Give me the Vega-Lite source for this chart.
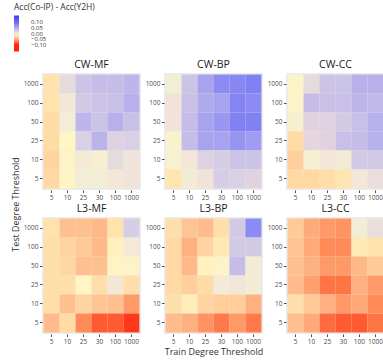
{
  "$schema": "https://vega.github.io/schema/vega-lite/v6.json",
  "padding": {"left": 11, "top": 3, "right": 2, "bottom": 2},
  "datasets": {
    "cells": [
      {"p":"CW-MF","te":1000,"tr":5,"d":-0.02},{"p":"CW-MF","te":1000,"tr":10,"d":0.01},{"p":"CW-MF","te":1000,"tr":25,"d":0.03},{"p":"CW-MF","te":1000,"tr":30,"d":0.035},{"p":"CW-MF","te":1000,"tr":100,"d":0.035},{"p":"CW-MF","te":1000,"tr":1000,"d":0.04},
      {"p":"CW-MF","te":100,"tr":5,"d":-0.02},{"p":"CW-MF","te":100,"tr":10,"d":0.003},{"p":"CW-MF","te":100,"tr":25,"d":0.025},{"p":"CW-MF","te":100,"tr":30,"d":0.03},{"p":"CW-MF","te":100,"tr":100,"d":0.033},{"p":"CW-MF","te":100,"tr":1000,"d":0.045},
      {"p":"CW-MF","te":50,"tr":5,"d":-0.025},{"p":"CW-MF","te":50,"tr":10,"d":0.0},{"p":"CW-MF","te":50,"tr":25,"d":0.04},{"p":"CW-MF","te":50,"tr":30,"d":0.03},{"p":"CW-MF","te":50,"tr":100,"d":0.045},{"p":"CW-MF","te":50,"tr":1000,"d":0.033},
      {"p":"CW-MF","te":25,"tr":5,"d":-0.025},{"p":"CW-MF","te":25,"tr":10,"d":-0.01},{"p":"CW-MF","te":25,"tr":25,"d":0.02},{"p":"CW-MF","te":25,"tr":30,"d":0.042},{"p":"CW-MF","te":25,"tr":100,"d":0.018},{"p":"CW-MF","te":25,"tr":1000,"d":0.02},
      {"p":"CW-MF","te":10,"tr":5,"d":-0.03},{"p":"CW-MF","te":10,"tr":10,"d":-0.008},{"p":"CW-MF","te":10,"tr":25,"d":0.002},{"p":"CW-MF","te":10,"tr":30,"d":-0.003},{"p":"CW-MF","te":10,"tr":100,"d":0.01},{"p":"CW-MF","te":10,"tr":1000,"d":0.005},
      {"p":"CW-MF","te":5,"tr":5,"d":-0.027},{"p":"CW-MF","te":5,"tr":10,"d":-0.009},{"p":"CW-MF","te":5,"tr":25,"d":0.0},{"p":"CW-MF","te":5,"tr":30,"d":0.0},{"p":"CW-MF","te":5,"tr":100,"d":0.003},{"p":"CW-MF","te":5,"tr":1000,"d":0.005},

      {"p":"CW-BP","te":1000,"tr":5,"d":0.0},{"p":"CW-BP","te":1000,"tr":10,"d":0.03},{"p":"CW-BP","te":1000,"tr":25,"d":0.055},{"p":"CW-BP","te":1000,"tr":30,"d":0.075},{"p":"CW-BP","te":1000,"tr":100,"d":0.077},{"p":"CW-BP","te":1000,"tr":1000,"d":0.082},
      {"p":"CW-BP","te":100,"tr":5,"d":0.005},{"p":"CW-BP","te":100,"tr":10,"d":0.033},{"p":"CW-BP","te":100,"tr":25,"d":0.05},{"p":"CW-BP","te":100,"tr":30,"d":0.055},{"p":"CW-BP","te":100,"tr":100,"d":0.08},{"p":"CW-BP","te":100,"tr":1000,"d":0.075},
      {"p":"CW-BP","te":50,"tr":5,"d":0.005},{"p":"CW-BP","te":50,"tr":10,"d":0.035},{"p":"CW-BP","te":50,"tr":25,"d":0.055},{"p":"CW-BP","te":50,"tr":30,"d":0.065},{"p":"CW-BP","te":50,"tr":100,"d":0.082},{"p":"CW-BP","te":50,"tr":1000,"d":0.082},
      {"p":"CW-BP","te":25,"tr":5,"d":-0.005},{"p":"CW-BP","te":25,"tr":10,"d":0.035},{"p":"CW-BP","te":25,"tr":25,"d":0.055},{"p":"CW-BP","te":25,"tr":30,"d":0.055},{"p":"CW-BP","te":25,"tr":100,"d":0.067},{"p":"CW-BP","te":25,"tr":1000,"d":0.06},
      {"p":"CW-BP","te":10,"tr":5,"d":-0.004},{"p":"CW-BP","te":10,"tr":10,"d":0.004},{"p":"CW-BP","te":10,"tr":25,"d":0.018},{"p":"CW-BP","te":10,"tr":30,"d":0.022},{"p":"CW-BP","te":10,"tr":100,"d":0.03},{"p":"CW-BP","te":10,"tr":1000,"d":0.03},
      {"p":"CW-BP","te":5,"tr":5,"d":-0.018},{"p":"CW-BP","te":5,"tr":10,"d":0.001},{"p":"CW-BP","te":5,"tr":25,"d":0.005},{"p":"CW-BP","te":5,"tr":30,"d":0.022},{"p":"CW-BP","te":5,"tr":100,"d":0.02},{"p":"CW-BP","te":5,"tr":1000,"d":0.017},

      {"p":"CW-CC","te":1000,"tr":5,"d":-0.007},{"p":"CW-CC","te":1000,"tr":10,"d":0.01},{"p":"CW-CC","te":1000,"tr":25,"d":0.03},{"p":"CW-CC","te":1000,"tr":30,"d":0.03},{"p":"CW-CC","te":1000,"tr":100,"d":0.045},{"p":"CW-CC","te":1000,"tr":1000,"d":0.045},
      {"p":"CW-CC","te":100,"tr":5,"d":-0.007},{"p":"CW-CC","te":100,"tr":10,"d":0.035},{"p":"CW-CC","te":100,"tr":25,"d":0.033},{"p":"CW-CC","te":100,"tr":30,"d":0.033},{"p":"CW-CC","te":100,"tr":100,"d":0.04},{"p":"CW-CC","te":100,"tr":1000,"d":0.038},
      {"p":"CW-CC","te":50,"tr":5,"d":-0.003},{"p":"CW-CC","te":50,"tr":10,"d":0.017},{"p":"CW-CC","te":50,"tr":25,"d":0.018},{"p":"CW-CC","te":50,"tr":30,"d":0.025},{"p":"CW-CC","te":50,"tr":100,"d":0.033},{"p":"CW-CC","te":50,"tr":1000,"d":0.045},
      {"p":"CW-CC","te":25,"tr":5,"d":-0.025},{"p":"CW-CC","te":25,"tr":10,"d":0.014},{"p":"CW-CC","te":25,"tr":25,"d":0.017},{"p":"CW-CC","te":25,"tr":30,"d":0.033},{"p":"CW-CC","te":25,"tr":100,"d":0.035},{"p":"CW-CC","te":25,"tr":1000,"d":0.045},
      {"p":"CW-CC","te":10,"tr":5,"d":-0.033},{"p":"CW-CC","te":10,"tr":10,"d":-0.002},{"p":"CW-CC","te":10,"tr":25,"d":0.003},{"p":"CW-CC","te":10,"tr":30,"d":0.001},{"p":"CW-CC","te":10,"tr":100,"d":0.025},{"p":"CW-CC","te":10,"tr":1000,"d":0.025},
      {"p":"CW-CC","te":5,"tr":5,"d":-0.027},{"p":"CW-CC","te":5,"tr":10,"d":-0.027},{"p":"CW-CC","te":5,"tr":25,"d":-0.023},{"p":"CW-CC","te":5,"tr":30,"d":-0.018},{"p":"CW-CC","te":5,"tr":100,"d":0.003},{"p":"CW-CC","te":5,"tr":1000,"d":0.008},

      {"p":"L3-MF","te":1000,"tr":5,"d":-0.02},{"p":"L3-MF","te":1000,"tr":10,"d":-0.04},{"p":"L3-MF","te":1000,"tr":25,"d":-0.04},{"p":"L3-MF","te":1000,"tr":30,"d":-0.045},{"p":"L3-MF","te":1000,"tr":100,"d":-0.02},{"p":"L3-MF","te":1000,"tr":1000,"d":0.022},
      {"p":"L3-MF","te":100,"tr":5,"d":-0.022},{"p":"L3-MF","te":100,"tr":10,"d":-0.03},{"p":"L3-MF","te":100,"tr":25,"d":-0.035},{"p":"L3-MF","te":100,"tr":30,"d":-0.045},{"p":"L3-MF","te":100,"tr":100,"d":-0.013},{"p":"L3-MF","te":100,"tr":1000,"d":0.002},
      {"p":"L3-MF","te":50,"tr":5,"d":-0.022},{"p":"L3-MF","te":50,"tr":10,"d":-0.028},{"p":"L3-MF","te":50,"tr":25,"d":-0.04},{"p":"L3-MF","te":50,"tr":30,"d":-0.04},{"p":"L3-MF","te":50,"tr":100,"d":-0.011},{"p":"L3-MF","te":50,"tr":1000,"d":-0.008},
      {"p":"L3-MF","te":25,"tr":5,"d":-0.022},{"p":"L3-MF","te":25,"tr":10,"d":-0.022},{"p":"L3-MF","te":25,"tr":25,"d":-0.01},{"p":"L3-MF","te":25,"tr":30,"d":-0.022},{"p":"L3-MF","te":25,"tr":100,"d":0.003},{"p":"L3-MF","te":25,"tr":1000,"d":-0.022},
      {"p":"L3-MF","te":10,"tr":5,"d":-0.022},{"p":"L3-MF","te":10,"tr":10,"d":-0.04},{"p":"L3-MF","te":10,"tr":25,"d":-0.03},{"p":"L3-MF","te":10,"tr":30,"d":-0.037},{"p":"L3-MF","te":10,"tr":100,"d":-0.04},{"p":"L3-MF","te":10,"tr":1000,"d":-0.06},
      {"p":"L3-MF","te":5,"tr":5,"d":-0.043},{"p":"L3-MF","te":5,"tr":10,"d":-0.025},{"p":"L3-MF","te":5,"tr":25,"d":-0.065},{"p":"L3-MF","te":5,"tr":30,"d":-0.08},{"p":"L3-MF","te":5,"tr":100,"d":-0.08},{"p":"L3-MF","te":5,"tr":1000,"d":-0.092},

      {"p":"L3-BP","te":1000,"tr":5,"d":-0.022},{"p":"L3-BP","te":1000,"tr":10,"d":-0.038},{"p":"L3-BP","te":1000,"tr":25,"d":-0.043},{"p":"L3-BP","te":1000,"tr":30,"d":-0.022},{"p":"L3-BP","te":1000,"tr":100,"d":0.025},{"p":"L3-BP","te":1000,"tr":1000,"d":0.075},
      {"p":"L3-BP","te":100,"tr":5,"d":-0.027},{"p":"L3-BP","te":100,"tr":10,"d":-0.05},{"p":"L3-BP","te":100,"tr":25,"d":-0.03},{"p":"L3-BP","te":100,"tr":30,"d":-0.017},{"p":"L3-BP","te":100,"tr":100,"d":0.025},{"p":"L3-BP","te":100,"tr":1000,"d":0.025},
      {"p":"L3-BP","te":50,"tr":5,"d":-0.027},{"p":"L3-BP","te":50,"tr":10,"d":-0.045},{"p":"L3-BP","te":50,"tr":25,"d":-0.012},{"p":"L3-BP","te":50,"tr":30,"d":-0.008},{"p":"L3-BP","te":50,"tr":100,"d":0.035},{"p":"L3-BP","te":50,"tr":1000,"d":0.001},
      {"p":"L3-BP","te":25,"tr":5,"d":-0.027},{"p":"L3-BP","te":25,"tr":10,"d":-0.033},{"p":"L3-BP","te":25,"tr":25,"d":-0.025},{"p":"L3-BP","te":25,"tr":30,"d":0.001},{"p":"L3-BP","te":25,"tr":100,"d":0.004},{"p":"L3-BP","te":25,"tr":1000,"d":0.001},
      {"p":"L3-BP","te":10,"tr":5,"d":-0.022},{"p":"L3-BP","te":10,"tr":10,"d":-0.014},{"p":"L3-BP","te":10,"tr":25,"d":-0.03},{"p":"L3-BP","te":10,"tr":30,"d":-0.033},{"p":"L3-BP","te":10,"tr":100,"d":-0.033},{"p":"L3-BP","te":10,"tr":1000,"d":-0.05},
      {"p":"L3-BP","te":5,"tr":5,"d":-0.043},{"p":"L3-BP","te":5,"tr":10,"d":-0.05},{"p":"L3-BP","te":5,"tr":25,"d":-0.062},{"p":"L3-BP","te":5,"tr":30,"d":-0.07},{"p":"L3-BP","te":5,"tr":100,"d":-0.06},{"p":"L3-BP","te":5,"tr":1000,"d":-0.07},

      {"p":"L3-CC","te":1000,"tr":5,"d":-0.035},{"p":"L3-CC","te":1000,"tr":10,"d":-0.053},{"p":"L3-CC","te":1000,"tr":25,"d":-0.06},{"p":"L3-CC","te":1000,"tr":30,"d":-0.062},{"p":"L3-CC","te":1000,"tr":100,"d":0.0},{"p":"L3-CC","te":1000,"tr":1000,"d":0.008},
      {"p":"L3-CC","te":100,"tr":5,"d":-0.038},{"p":"L3-CC","te":100,"tr":10,"d":-0.053},{"p":"L3-CC","te":100,"tr":25,"d":-0.065},{"p":"L3-CC","te":100,"tr":30,"d":-0.065},{"p":"L3-CC","te":100,"tr":100,"d":-0.016},{"p":"L3-CC","te":100,"tr":1000,"d":-0.02},
      {"p":"L3-CC","te":50,"tr":5,"d":-0.04},{"p":"L3-CC","te":50,"tr":10,"d":-0.05},{"p":"L3-CC","te":50,"tr":25,"d":-0.06},{"p":"L3-CC","te":50,"tr":30,"d":-0.06},{"p":"L3-CC","te":50,"tr":100,"d":-0.045},{"p":"L3-CC","te":50,"tr":1000,"d":-0.035},
      {"p":"L3-CC","te":25,"tr":5,"d":-0.043},{"p":"L3-CC","te":25,"tr":10,"d":-0.057},{"p":"L3-CC","te":25,"tr":25,"d":-0.072},{"p":"L3-CC","te":25,"tr":30,"d":-0.072},{"p":"L3-CC","te":25,"tr":100,"d":-0.05},{"p":"L3-CC","te":25,"tr":1000,"d":-0.06},
      {"p":"L3-CC","te":10,"tr":5,"d":-0.022},{"p":"L3-CC","te":10,"tr":10,"d":-0.035},{"p":"L3-CC","te":10,"tr":25,"d":-0.05},{"p":"L3-CC","te":10,"tr":30,"d":-0.06},{"p":"L3-CC","te":10,"tr":100,"d":-0.053},{"p":"L3-CC","te":10,"tr":1000,"d":-0.065},
      {"p":"L3-CC","te":5,"tr":5,"d":-0.04},{"p":"L3-CC","te":5,"tr":10,"d":-0.053},{"p":"L3-CC","te":5,"tr":25,"d":-0.075},{"p":"L3-CC","te":5,"tr":30,"d":-0.08},{"p":"L3-CC","te":5,"tr":100,"d":-0.08},{"p":"L3-CC","te":5,"tr":1000,"d":-0.072}
    ]
  },
  "data": {"name": "cells"},
  "columns": 3,
  "spacing": {"row": 27, "column": 23},
  "bounds": "flush",
  "concat": [
    {"title": "CW-MF", "width": 99, "height": 117, "transform": [{"filter": "datum.p === 'CW-MF'"}], "mark": "rect",
     "encoding": {
       "x": {"field": "tr", "type": "ordinal", "title": null, "scale": {"paddingInner": 0, "paddingOuter": 0.1}},
       "y": {"field": "te", "type": "ordinal", "sort": "descending", "title": "Test Degree Threshold", "axis": {"titleY": 131}, "scale": {"paddingInner": 0, "paddingOuter": 0.08}},
       "color": {"field": "d", "type": "quantitative", "title": "Acc(Co-IP) - Acc(Y2H)",
         "scale": {"domain": [-0.16,-0.1,-0.09,-0.08,-0.07,-0.06,-0.05,-0.04,-0.03,-0.02,-0.01,0,0.01,0.02,0.03,0.04,0.05,0.06,0.07,0.08,0.1,0.16],
                   "range": ["#FF2000","#FF2810","#FF3A1E","#FF5A32","#FF7A4A","#FF9A68","#FFB080","#FFC090","#FFD4A0","#FFE2AC","#FFF6C4","#F2EED6","#E4DCDC","#D8D0E4","#CCC4E6","#BEB6EA","#B0AAEC","#A09CF0","#9292F2","#8484F4","#6A6AF6","#3C3CF8"]},
         "legend": {"orient": "none", "legendX": -28, "legendY": -70, "direction": "vertical", "values": [0.1, 0.05, 0, -0.05, -0.1], "format": ".2f", "gradientLength": 36, "gradientThickness": 5, "labelOverlap": false, "labelOffset": 12, "labelFontSize": 6}}
     }},
    {"title": "CW-BP", "width": 99, "height": 117, "transform": [{"filter": "datum.p === 'CW-BP'"}], "mark": "rect",
     "encoding": {
       "x": {"field": "tr", "type": "ordinal", "title": null, "scale": {"paddingInner": 0, "paddingOuter": 0.1}},
       "y": {"field": "te", "type": "ordinal", "sort": "descending", "title": null, "scale": {"paddingInner": 0, "paddingOuter": 0.08}},
       "color": {"field": "d", "type": "quantitative", "title": "Acc(Co-IP) - Acc(Y2H)"}
     }},
    {"title": "CW-CC", "width": 99, "height": 117, "transform": [{"filter": "datum.p === 'CW-CC'"}], "mark": "rect",
     "encoding": {
       "x": {"field": "tr", "type": "ordinal", "title": null, "scale": {"paddingInner": 0, "paddingOuter": 0.1}},
       "y": {"field": "te", "type": "ordinal", "sort": "descending", "title": null, "scale": {"paddingInner": 0, "paddingOuter": 0.08}},
       "color": {"field": "d", "type": "quantitative", "title": "Acc(Co-IP) - Acc(Y2H)"}
     }},
    {"title": "L3-MF", "width": 99, "height": 117, "transform": [{"filter": "datum.p === 'L3-MF'"}], "mark": "rect",
     "encoding": {
       "x": {"field": "tr", "type": "ordinal", "title": null, "scale": {"paddingInner": 0, "paddingOuter": 0.1}},
       "y": {"field": "te", "type": "ordinal", "sort": "descending", "title": null, "scale": {"paddingInner": 0, "paddingOuter": 0.08}},
       "color": {"field": "d", "type": "quantitative", "title": "Acc(Co-IP) - Acc(Y2H)"}
     }},
    {"title": "L3-BP", "width": 99, "height": 117, "transform": [{"filter": "datum.p === 'L3-BP'"}], "mark": "rect",
     "encoding": {
       "x": {"field": "tr", "type": "ordinal", "title": "Train Degree Threshold", "scale": {"paddingInner": 0, "paddingOuter": 0.1}},
       "y": {"field": "te", "type": "ordinal", "sort": "descending", "title": null, "scale": {"paddingInner": 0, "paddingOuter": 0.08}},
       "color": {"field": "d", "type": "quantitative", "title": "Acc(Co-IP) - Acc(Y2H)"}
     }},
    {"title": "L3-CC", "width": 99, "height": 117, "transform": [{"filter": "datum.p === 'L3-CC'"}], "mark": "rect",
     "encoding": {
       "x": {"field": "tr", "type": "ordinal", "title": null, "scale": {"paddingInner": 0, "paddingOuter": 0.1}},
       "y": {"field": "te", "type": "ordinal", "sort": "descending", "title": null, "scale": {"paddingInner": 0, "paddingOuter": 0.08}},
       "color": {"field": "d", "type": "quantitative", "title": "Acc(Co-IP) - Acc(Y2H)"}
     }}
  ],
  "config": {
    "font": "Open Sans",
    "view": {"fill": "#EBEBEB", "stroke": null},
    "title": {"fontSize": 10.5, "fontWeight": "normal", "color": "#1a1a1a", "offset": 3, "frame": "group"},
    "axis": {"labelFontSize": 6.5, "labelColor": "#4d4d4d", "tickColor": "#4d4d4d", "tickSize": 2.5, "labelPadding": 1.5, "domain": false, "grid": false, "labelAngle": 0, "titleFontSize": 9, "titleFontWeight": "normal", "titleColor": "#333333", "titlePadding": 3},
    "legend": {"titleFontSize": 8.5, "titleFontWeight": "normal", "titleColor": "#333333", "labelFontSize": 6, "labelColor": "#333333", "titlePadding": 4}
  }
}
